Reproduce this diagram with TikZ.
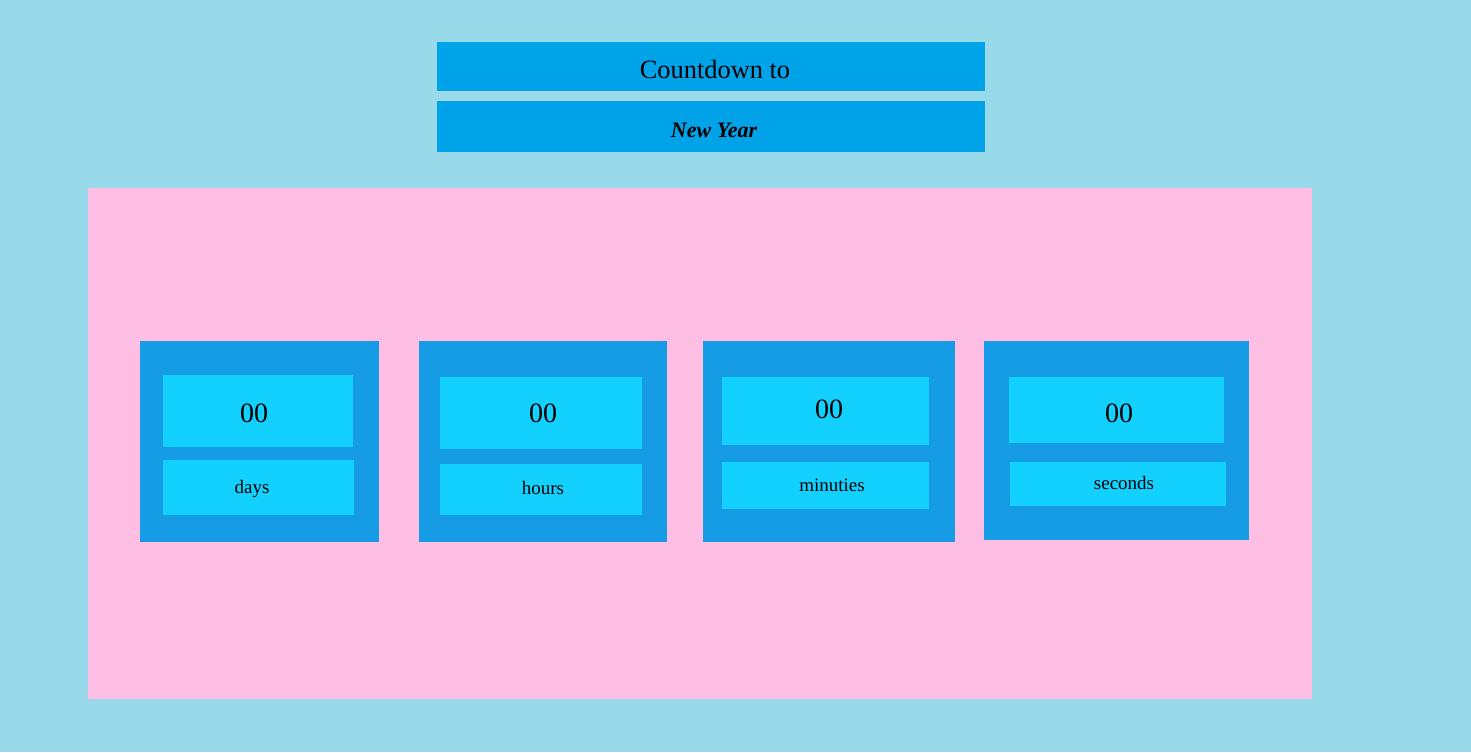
\documentclass[tikz,border=0pt]{standalone}
\usepackage{fontspec}
\setmainfont{Liberation Serif}
\definecolor{bgblue}{HTML}{98D9EA}
\definecolor{titleblue}{HTML}{00A2E8}
\definecolor{pinkbg}{HTML}{FFBFE4}
\definecolor{cardblue}{HTML}{169CE4}
\definecolor{cellblue}{HTML}{12D1FF}
\begin{document}
\begin{tikzpicture}[x=0.5pt,y=-0.5pt,
  numtxt/.style={inner sep=0pt,font=\fontsize{14}{16}\selectfont},
  labtxt/.style={inner sep=0pt,font=\fontsize{9.5}{11}\selectfont},
  titletxt/.style={inner sep=0pt,font=\fontsize{13.2}{15}\selectfont},
  scripttxt/.style={inner sep=0pt,font=\bfseries\itshape\fontsize{11}{13}\selectfont}]
\useasboundingbox (0,0) rectangle (1471,752);
\fill[bgblue] (0,0) rectangle (1471,752);
% title boxes
\fill[titleblue] (437,42) rectangle (985,91);
\fill[titleblue] (437,101) rectangle (985,152);
\node[titletxt] (title) at (715,69) {Countdown to};
\node[scripttxt] (sub) at (714,130) {New Year};
% pink panel
\fill[pinkbg] (88,188) rectangle (1312,699);
% card 1
\fill[cardblue] (140,341) rectangle (379,542);
\fill[cellblue] (163,375) rectangle (353,447);
\fill[cellblue] (163,460) rectangle (354,515);
\node[numtxt] (n1) at (254,413) {00};
\node[labtxt] (l1) at (252,489) {days};
% card 2
\fill[cardblue] (419,341) rectangle (667,542);
\fill[cellblue] (440,377) rectangle (642,449);
\fill[cellblue] (440,464) rectangle (642,515);
\node[numtxt] (n2) at (543,413) {00};
\node[labtxt] (l2) at (543,488) {hours};
% card 3
\fill[cardblue] (703,341) rectangle (955,542);
\fill[cellblue] (722,377) rectangle (929,445);
\fill[cellblue] (722,462) rectangle (929,509);
\node[numtxt] (n3) at (829,409) {00};
\node[labtxt] (l3) at (832,485) {minuties};
% card 4
\fill[cardblue] (984,341) rectangle (1249,540);
\fill[cellblue] (1009,377) rectangle (1224,443);
\fill[cellblue] (1010,462) rectangle (1226,506);
\node[numtxt] (n4) at (1119,413) {00};
\node[labtxt] (l4) at (1124,483) {seconds};
\end{tikzpicture}
\end{document}
